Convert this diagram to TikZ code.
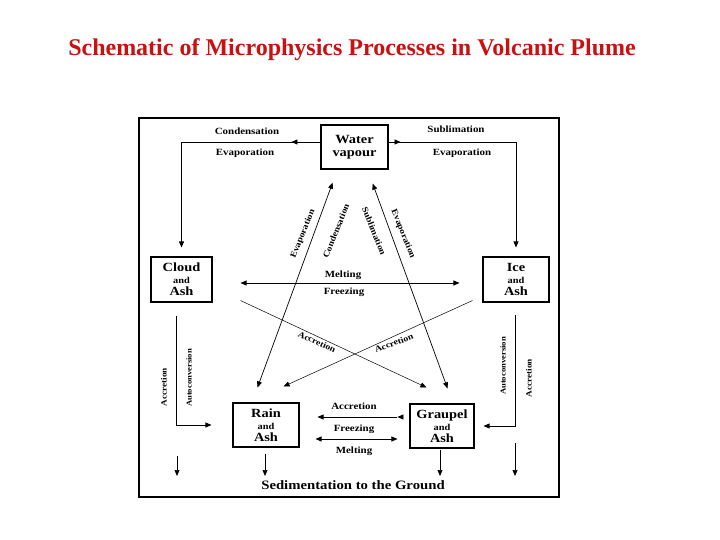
\documentclass[tikz,border=0pt]{standalone}
\usepackage{fontspec}
\setmainfont{Liberation Serif}
\newfontfamily\lblfont[FakeStretch=1.15]{Liberation Serif}
\usetikzlibrary{arrows.meta,calc,decorations.markings}
\definecolor{titlered}{RGB}{200,18,18}
\tikzset{
  box/.style={draw, line width=1.1pt, inner sep=0pt, align=center, font=\lblfont\bfseries},
  lab/.style={inner sep=0pt, font=\lblfont\bfseries\fontsize{9.5}{11}\selectfont},
  rlab/.style={inner sep=0pt, font=\lblfont\bfseries\fontsize{8.5}{10}\selectfont},
  vlab/.style={inner sep=0pt, rotate=90, font=\lblfont\bfseries\fontsize{7.5}{9}\selectfont},
  conn/.style={line width=0.7pt},
  thinconn/.style={line width=0.5pt},
  arr/.style={conn, -{Triangle[length=6pt,width=5pt]}},
  darr/.style={conn, {Triangle[length=6pt,width=5pt]}-{Triangle[length=6pt,width=5pt]}},
  midarrow/.style={postaction={decorate}, decoration={markings, mark=at position #1 with {\arrow{Triangle[length=6pt,width=5pt]}}}},
  frame/.style={line width=1.1pt}
}
\newcommand{\bigw}[1]{{\fontsize{12.5}{13}\selectfont #1}}
\newcommand{\smallw}[1]{{\fontsize{9}{13}\selectfont #1}}
\begin{document}
\begin{tikzpicture}[x=1pt,y=-1pt]
\useasboundingbox (0,0) rectangle (720,540);
% title
\node[font=\bfseries\fontsize{24}{26}\selectfont, text=titlered] (title) at (352,50) {Schematic of Microphysics Processes in Volcanic Plume};
% frame
\draw[frame] (139,118) rectangle (559,497);
% boxes
\node[box, minimum width=67pt, minimum height=44pt] (wv) at (354.5,147) {\bigw{Water}\\[1pt]\bigw{vapour}};
\node[box, minimum width=61pt, minimum height=45pt] (cloud) at (181.5,279.5) {\bigw{Cloud}\\\smallw{and}\\\bigw{Ash}};
\node[box, minimum width=66pt, minimum height=45pt] (ice) at (516,279.5) {\bigw{Ice}\\\smallw{and}\\\bigw{Ash}};
\node[box, minimum width=66pt, minimum height=44pt] (rain) at (266,425) {\bigw{Rain}\\\smallw{and}\\\bigw{Ash}};
\node[box, minimum width=64pt, minimum height=44pt] (graupel) at (442,426) {\bigw{Graupel}\\\smallw{and}\\\bigw{Ash}};
\node[lab, font=\lblfont\bfseries\fontsize{12.8}{14}\selectfont] (sed) at (353,485) {Sedimentation to the Ground};
% top connectors
\draw[arr, midarrow=29pt, shorten >=9pt] ([shift={(0,-5)}]wv.west) -| (cloud.north);
\draw[arr, midarrow=12pt, shorten >=9pt] ([shift={(0,-5)}]wv.east) -| (ice.north);
\node[lab] (condl) at (247,131) {Condensation};
\node[lab] (evapl) at (245,153) {Evaporation};
\node[lab] (subl) at (456,129) {Sublimation};
\node[lab] (evapr) at (462,153) {Evaporation};
% diagonals vapour - rain / graupel
\draw[darr, shorten <=14pt, shorten >=16pt] ([shift={(17,0)}]wv.south west) -- ([shift={(19.5,0)}]rain.north west);
\draw[darr, shorten <=15pt, shorten >=16pt] ([shift={(-21,0)}]wv.south east) -- ([shift={(43.6,0)}]graupel.north west);
\node[rlab, rotate=68] (ev1) at (303,234) {Evaporation};
\node[rlab, rotate=68] (co1) at (336,231) {Condensation};
\node[rlab, rotate=-68] (su1) at (374,231) {Sublimation};
\node[rlab, rotate=-68] (ev2) at (403,234) {Evaporation};
% melting / freezing
\draw[darr, shorten <=28pt, shorten >=23pt] ([shift={(0,3.5)}]cloud.east) -- ([shift={(0,3.5)}]ice.west);
\node[lab] (melt1) at (343,275) {Melting};
\node[lab] (frz1) at (344,292) {Freezing};
% accretion crossing lines
\draw[thinconn, -{Triangle[length=6pt,width=5pt]}] ([shift={(28,-2)}]cloud.south east) -- ([shift={(17,-16)}]graupel.north west);
\draw[thinconn, -{Triangle[length=6pt,width=5pt]}] ([shift={(-10,-2)}]ice.south west) -- ([shift={(-16,-16)}]rain.north east);
\node[rlab, rotate=-25] (acc1) at (317,342) {Accretion};
\node[rlab, rotate=21] (acc2) at (394,343) {Accretion};
% side columns
\draw[arr, shorten <=13pt, shorten >=21pt] ([shift={(-5.5,0)}]cloud.south) |- (rain.west);
\node[vlab, font=\lblfont\bfseries\fontsize{8}{9}\selectfont] (acc3) at (164,387) {Accretion};
\node[vlab] (auto1) at (189,378) {Autoconversion};
\draw[arr, shorten <=12pt, shorten >=9pt] ([shift={(-1,0)}]ice.south) |- (graupel.east);
\node[vlab] (auto2) at (503,366) {Autoconversion};
\node[vlab, font=\lblfont\bfseries\fontsize{8}{9}\selectfont] (acc4) at (529,378) {Accretion};
% rain - graupel
\draw[arr, midarrow=12pt, shorten <=12pt, shorten >=18pt] ([shift={(0,-9)}]graupel.west) -- ([shift={(0,-9)}]rain.east |- graupel.west);
\node[lab] (acc5) at (354,406) {Accretion};
\draw[darr, shorten <=16pt, shorten >=12pt] ([shift={(0,14)}]rain.east) -- ([shift={(0,14)}]rain.east -| graupel.west);
\node[lab] (frz2) at (354,429) {Freezing};
\node[lab] (melt2) at (354,451) {Melting};
% sedimentation
\coordinate (gnd) at (0,476);
\coordinate (cl) at (177,456);
\coordinate (ir) at (515,443);
\draw[arr] (cl) -- (cl |- gnd);
\draw[arr] ([shift={(-1,6)}]rain.south) -- ([shift={(-1,0)}]rain.south |- gnd);
\draw[arr] ([shift={(-2,1)}]graupel.south) -- ([shift={(-2,0)}]graupel.south |- gnd);
\draw[arr] (ir) -- (ir |- gnd);
\end{tikzpicture}
\end{document}
